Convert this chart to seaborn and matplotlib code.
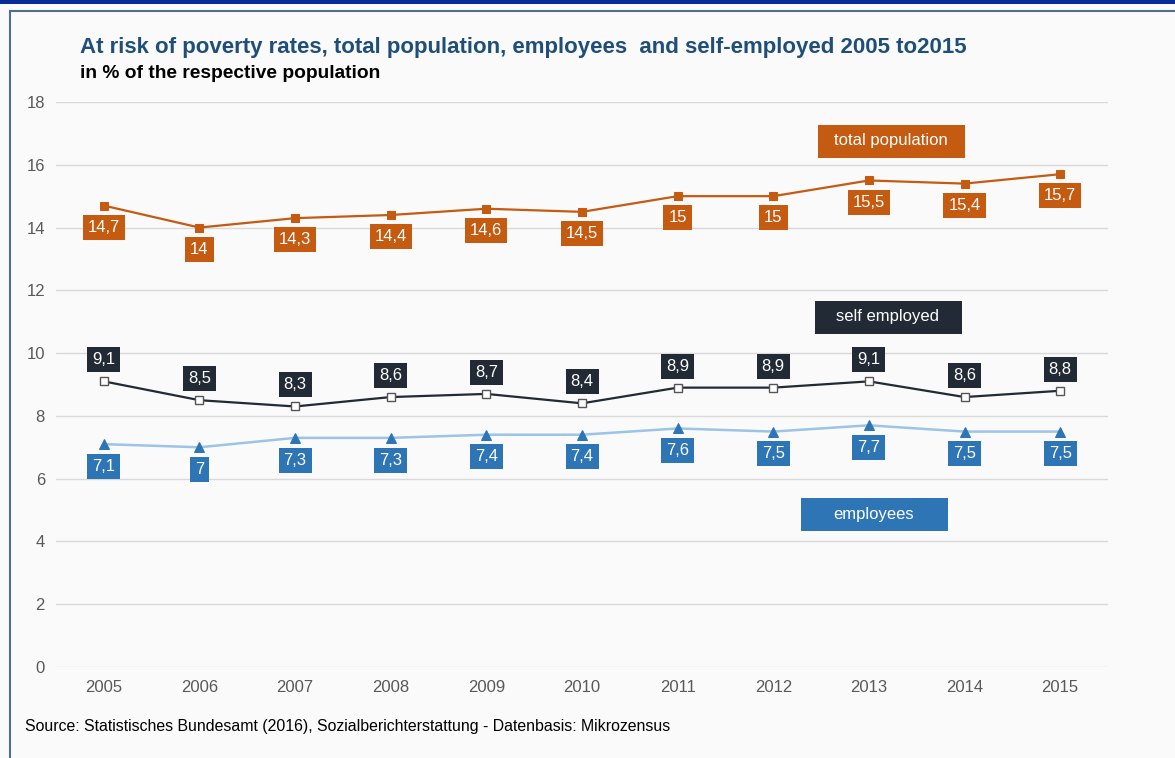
import matplotlib as mpl
import matplotlib.pyplot as plt
from matplotlib.patches import Rectangle
import numpy as np
import pandas as pd
import seaborn as sns

# data
years = [2005, 2006, 2007, 2008, 2009, 2010, 2011, 2012, 2013, 2014, 2015]
total_population = [14.7, 14.0, 14.3, 14.4, 14.6, 14.5, 15.0, 15.0, 15.5, 15.4, 15.7]
self_employed = [9.1, 8.5, 8.3, 8.6, 8.7, 8.4, 8.9, 8.9, 9.1, 8.6, 8.8]
employees = [7.1, 7.0, 7.3, 7.3, 7.4, 7.4, 7.6, 7.5, 7.7, 7.5, 7.5]
y_ticks = [0, 2, 4, 6, 8, 10, 12, 14, 16, 18]

ORANGE = '#c55a11'
DARK = '#222a35'
BLUE = '#2e75b6'
LIGHT_BLUE = '#9dc3e6'
BG = '#fafafa'

sns.set_style('white')
plt.rcParams['font.family'] = ['Liberation Sans', 'DejaVu Sans']

df = pd.DataFrame({'year': years, 'total': total_population,
                   'self': self_employed, 'emp': employees})

fig = plt.figure(figsize=(11.75, 7.58), dpi=100, facecolor=BG)
ax = fig.add_axes([56 / 1175, 1 - 667 / 758, 1052 / 1175, 565 / 758])
ax.set_facecolor(BG)

# outer frame and top band
fig.patches.append(Rectangle((10 / 1175, -0.1), 1.2, (758 - 11) / 758 + 0.1,
                             transform=fig.transFigure, fill=False,
                             edgecolor='#4f6f8f', linewidth=1.5))
fig.patches.append(Rectangle((0, 1 - 4 / 758), 1, 4 / 758,
                             transform=fig.transFigure, facecolor='#0a2a96',
                             edgecolor='none'))

# lines
sns.lineplot(data=df, x='year', y='total', ax=ax, color=ORANGE, linewidth=1.6,
             marker='s', markersize=6, markeredgecolor=ORANGE, markerfacecolor=ORANGE)
sns.lineplot(data=df, x='year', y='self', ax=ax, color=DARK, linewidth=1.6,
             marker='s', markersize=6, markeredgecolor='#555555', markerfacecolor='white',
             markeredgewidth=1.0)
sns.lineplot(data=df, x='year', y='emp', ax=ax, color=LIGHT_BLUE, linewidth=1.8,
             marker='^', markersize=7, markeredgecolor=BLUE, markerfacecolor=BLUE)


def fmt(v):
    return ('%g' % v).replace('.', ',')


def label_series(vals, color, offset):
    for x, v in zip(years, vals):
        ax.annotate(fmt(v), (x, v), xytext=(0, offset), textcoords='offset points',
                    ha='center', va='center', color='white', fontsize=12,
                    bbox=dict(boxstyle='square,pad=0.3', facecolor=color, edgecolor='none'))


label_series(total_population, ORANGE, -15.5)
label_series(self_employed, DARK, 15.5)
label_series(employees, BLUE, -16)


# series name boxes
def name_box(cx, cy, w, h, text, color):
    ax.add_patch(Rectangle((cx - w / 2, cy - h / 2), w, h, transform=ax.transAxes,
                           facecolor=color, edgecolor='none', zorder=5))
    ax.text(cx, cy, text, transform=ax.transAxes, ha='center', va='center',
            color='white', fontsize=12, zorder=6)


name_box((891 - 56) / 1052, (667 - 141) / 565, 147 / 1052, 33 / 565, 'total population', ORANGE)
name_box((888 - 56) / 1052, (667 - 317) / 565, 147 / 1052, 33 / 565, 'self employed', DARK)
name_box((874 - 56) / 1052, (667 - 514) / 565, 147 / 1052, 33 / 565, 'employees', BLUE)

ax.set_xlim(2004.5, 2015.5)
ax.set_ylim(0, 18)
ax.set_yticks(y_ticks)
ax.set_xticks(years)
ax.set_xticklabels([str(y) for y in years])
ax.grid(axis='y', color='#d9d9d9', linewidth=1)
ax.set_axisbelow(True)
ax.tick_params(axis='both', labelsize=12, labelcolor='#595959', length=0)
ax.tick_params(axis='y', pad=8)
ax.tick_params(axis='x', pad=9)
ax.set_xlabel('')
ax.set_ylabel('')
sns.despine(ax=ax, left=True, bottom=True)

fig.text(80 / 1175, 1 - 48 / 758, 'At risk of poverty rates, total population, employees  and self-employed 2005 to2015',
         fontsize=16, fontweight='bold', color='#1f4e79', va='center')
fig.text(80 / 1175, 1 - 73 / 758, 'in % of the respective population',
         fontsize=13.8, fontweight='bold', color='black', va='center')
fig.text(25 / 1175, 1 - 727 / 758,
         'Source: Statistisches Bundesamt (2016), Sozialberichterstattung - Datenbasis: Mikrozensus',
         fontsize=11.4, color='black', va='center')

fig.savefig('out.png', dpi=100, facecolor=BG)
plt.close()
